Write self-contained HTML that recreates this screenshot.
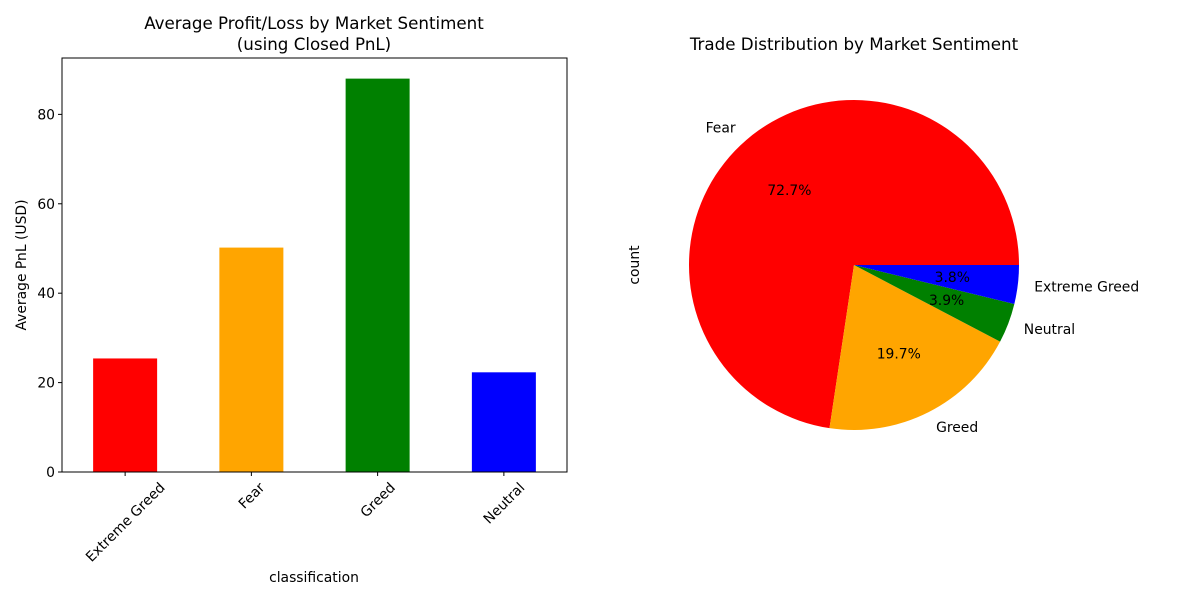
<!DOCTYPE html>
<html><head><meta charset="utf-8"><style>
body{margin:0;background:#fff}
svg{font-family:"DejaVu Sans","Liberation Sans",sans-serif}
</style></head><body>
<svg id="c" width="1200" height="600">
<rect width="1200" height="600" fill="#fff"/>
</svg>
<script>
const categories=["Extreme Greed","Fear","Greed","Neutral"];
const avgPnl=[25.4,50.2,88.0,22.3];
const barColors=["red","orange","green","blue"];
const yTicks=[0,20,40,60,80];
const pieLabels=["Fear","Greed","Neutral","Extreme Greed"];
const pieValues=[72.7,19.7,3.9,3.8];
const pieColors=["red","orange","green","blue"];

const NS="http://www.w3.org/2000/svg";
const svg=document.getElementById('c');
function mk(t,a,txt,parent){const e=document.createElementNS(NS,t);for(const k in a)e.setAttribute(k,a[k]);if(txt!==undefined)e.textContent=txt;(parent||svg).appendChild(e);return e;}
const FS=13.9, TS=16.7;

// bar chart
const L=62,R=567,T=58,B=472;
const y=v=>B-v*(B-T-0.5)/92.5;
const band=(R-L)/categories.length;
const x=i=>L+band*(i+0.5);
const bars=mk('g',{});


categories.forEach((c,i)=>{
  const r=mk('rect',{x:x(i)-32,y:y(avgPnl[i]),width:64,height:B-y(avgPnl[i]),fill:barColors[i]},undefined,bars);
  
  
  mk('line',{x1:x(i),x2:x(i),y1:B,y2:B+4,stroke:'#000'},undefined,bars);
  const t=mk('text',{x:x(i),y:0,'font-size':FS,'text-anchor':'middle'},c,bars);
  
  
  const w=t.getComputedTextLength();
  const cyy=B+8+(w+FS)*0.7071/2;
  t.setAttribute('y',cyy+FS*0.35);
  t.setAttribute('transform',`rotate(-45 ${x(i)} ${cyy})`);
});
yTicks.forEach(v=>{
  mk('line',{x1:L-4,x2:L,y1:y(v),y2:y(v),stroke:'#000'},undefined,bars);
  const t=mk('text',{x:L-7,y:y(v)+5,'font-size':FS,'text-anchor':'end'},v,bars);
  
  
});
mk('rect',{x:L,y:T,width:R-L,height:B-T,fill:'none',stroke:'#000','stroke-width':1},undefined,bars);
const t1=mk('text',{x:314,y:29,'font-size':TS,'text-anchor':'middle'},'Average Profit/Loss by Market Sentiment');

const t2=mk('text',{x:314,y:50,'font-size':TS,'text-anchor':'middle'},'(using Closed PnL)');

const xt=mk('text',{x:314,y:582,'font-size':FS,'text-anchor':'middle'},'classification');

const yt=mk('text',{x:26,y:265,'font-size':FS,'text-anchor':'middle',transform:'rotate(-90 26 265)'},'Average PnL (USD)');


// pie
const cx=854,cy=265,rad=165;
const total=pieValues.reduce((a,b)=>a+b,0);
let a0=0;
const pie=mk('g',{});


pieValues.forEach((v,i)=>{
  const a1=a0+v/total*2*Math.PI;
  const p=(a)=>[cx+rad*Math.cos(a),cy-rad*Math.sin(a)];
  const [x0,y0]=p(a0),[x1,y1]=p(a1);
  const large=(a1-a0)>Math.PI?1:0;
  const s=mk('path',{d:`M${cx},${cy} L${x0},${y0} A${rad},${rad} 0 ${large} 0 ${x1},${y1} Z`,fill:pieColors[i]},undefined,pie);
  
  
  a0=a1;
});
a0=0;
pieValues.forEach((v,i)=>{
  const a1=a0+v/total*2*Math.PI;
  const m=(a0+a1)/2;
  const lx=cx+1.1*rad*Math.cos(m),ly=cy-1.1*rad*Math.sin(m);
  const lb=mk('text',{x:lx,y:ly+5,'font-size':FS,'text-anchor':Math.cos(m)<0?'end':'start'},pieLabels[i],pie);
  
  const px=cx+0.6*rad*Math.cos(m),py=cy-0.6*rad*Math.sin(m);
  const pc=mk('text',{x:px,y:py+5,'font-size':FS,'text-anchor':'middle'},v.toFixed(1)+'%',pie);
  
  a0=a1;
});
const pt=mk('text',{x:854,y:50,'font-size':TS,'text-anchor':'middle'},'Trade Distribution by Market Sentiment');

const cl=mk('text',{x:639,y:265,'font-size':FS,'text-anchor':'middle',transform:'rotate(-90 639 265)'},'count');

</script>
</body></html>
